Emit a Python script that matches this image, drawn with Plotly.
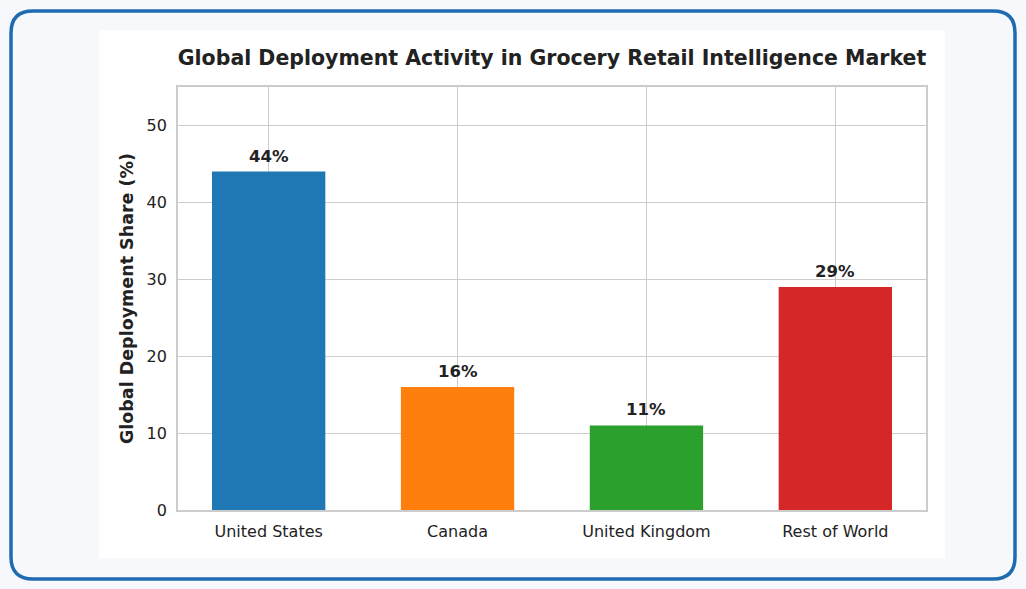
import plotly.graph_objects as go

# chart data
regions = ['United States', 'Canada', 'United Kingdom', 'Rest of World']
shares = [44, 16, 11, 29]
bar_colors = ['#1f77b4', '#ff7f0e', '#2ca02c', '#d62728']
y_ticks = [0, 10, 20, 30, 40, 50]

FONT = 'DejaVu Sans'
GRID = '#cccccc'
W, H = 1026, 589
L, R, T, B = 178, 926, 87, 510   # plot area in pixels


def px(x, y):
    # pixel position -> paper coords (paper = plot area)
    return (x - L) / (R - L), (B - y) / (B - T)


fig = go.Figure()

fig.add_trace(go.Bar(
    x=list(range(len(regions))),
    y=shares,
    width=0.6,
    marker=dict(color=bar_colors, line=dict(width=0)),
    showlegend=False,
    hoverinfo='skip',
))

# value labels above each bar
for i, v in enumerate(shares):
    fig.add_annotation(
        x=i, y=v, text=f'<b>{v}%</b>', showarrow=False,
        yanchor='bottom', yshift=4,
        font=dict(family=FONT, size=16.5, color='#222222'),
    )

# white panel behind the chart
wx0, wy1 = px(99, 30)
wx1, wy0 = px(945, 558)
fig.add_shape(type='rect', xref='paper', yref='paper',
              x0=wx0, x1=wx1, y0=wy0, y1=wy1,
              fillcolor='white', line=dict(width=0), layer='below')

# rounded blue card border
r = 22
x0, y0, x1, y1 = 11, 11, 1015, 579
pts = [('M', x0 + r, y0), ('L', x1 - r, y0), ('Q', x1, y0), ('', x1, y0 + r),
       ('L', x1, y1 - r), ('Q', x1, y1), ('', x1 - r, y1),
       ('L', x0 + r, y1), ('Q', x0, y1), ('', x0, y1 - r),
       ('L', x0, y0 + r), ('Q', x0, y0), ('', x0 + r, y0)]
path = ' '.join(f'{c} {px(a, b)[0]:.5f},{px(a, b)[1]:.5f}'.strip() for c, a, b in pts) + ' Z'
fig.add_shape(type='path', xref='paper', yref='paper', path=path,
              line=dict(color='#1f6bb0', width=3.5), fillcolor='rgba(0,0,0,0)',
              layer='above')

fig.update_layout(
    width=W, height=H,
    margin=dict(l=L, r=W - R, t=T, b=H - B),
    paper_bgcolor='#f6f8fc',
    plot_bgcolor='white',
    title=dict(
        text='<b>Global Deployment Activity in Grocery Retail Intelligence Market</b>',
        x=(552 / W), xanchor='center', y=1 - 58 / H, yanchor='middle',
        font=dict(family=FONT, size=20.5, color='#222222'),
    ),
    xaxis=dict(
        range=[-0.48, 3.48],
        tickmode='array', tickvals=list(range(len(regions))), ticktext=regions,
        showgrid=True, gridcolor=GRID, gridwidth=1.2,
        showline=True, linecolor=GRID, linewidth=1.8, mirror=True,
        ticks='', zeroline=False, ticklabelstandoff=6,
        tickfont=dict(family=FONT, size=16, color='#222222'),
    ),
    yaxis=dict(
        range=[0, 55],
        tickmode='array', tickvals=y_ticks,
        showgrid=True, gridcolor=GRID, gridwidth=1.2,
        showline=True, linecolor=GRID, linewidth=1.8, mirror=True,
        ticks='', zeroline=False, ticklabelstandoff=6,
        tickfont=dict(family=FONT, size=16, color='#222222'),
        title=dict(text='<b>Global Deployment Share (%)</b>', standoff=8,
                   font=dict(family=FONT, size=17.5, color='#222222')),
    ),
)

fig.write_html('out.html', config={'displayModeBar': False},
               post_script="document.body.style.margin='0';")
